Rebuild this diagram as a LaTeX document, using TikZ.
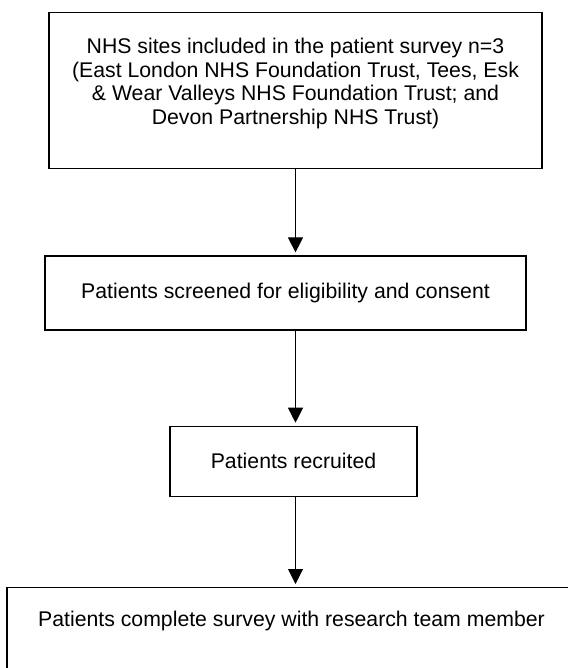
\documentclass[tikz,border=0pt]{standalone}
\usepackage{fontspec}
\setmainfont{Liberation Sans}
\usetikzlibrary{positioning,arrows.meta}

\begin{document}
\begin{tikzpicture}[
  x=1pt,y=-1pt,
  font=\fontsize{21.25pt}{23.8pt}\selectfont,
  box/.style={rectangle,draw=black,line width=1.3pt,align=center,inner sep=0pt},
  arr/.style={-{Triangle[length=15pt,width=15pt]},line width=1pt,shorten >=3pt},
]
\useasboundingbox (0,0) rectangle (567,668);
% ---------- boxes ----------
\node[box,anchor=north,minimum width=493pt,inner ysep=25.3pt] (sites) at (295.5,12)
  {NHS sites included in the patient survey n=3\\(East London NHS Foundation Trust, Tees, Esk\\\& Wear Valleys NHS Foundation Trust; and\\Devon Partnership NHS Trust)\rule[-18.7pt]{0pt}{18.7pt}};
\node[box,below=86pt of sites,xshift=-10pt,minimum width=481pt,minimum height=74pt] (screen)
  {Patients screened for eligibility and consent};
\node[box,below=95pt of screen,xshift=8pt,minimum width=247pt,minimum height=70pt] (recruit)
  {Patients recruited};
\node[box,below=90pt of recruit,xshift=-2pt,minimum width=569pt,inner ysep=23pt,
      text height=15.5pt,text depth=80pt] (survey)
  {Patients complete survey with research team member};

% ---------- arrows ----------
\draw[arr] (sites.south) -- (sites.south |- screen.north);
\draw[arr] (sites.south |- screen.south) -- (sites.south |- recruit.north);
\draw[arr] (sites.south |- recruit.south) -- (sites.south |- survey.north);
\end{tikzpicture}
\end{document}
